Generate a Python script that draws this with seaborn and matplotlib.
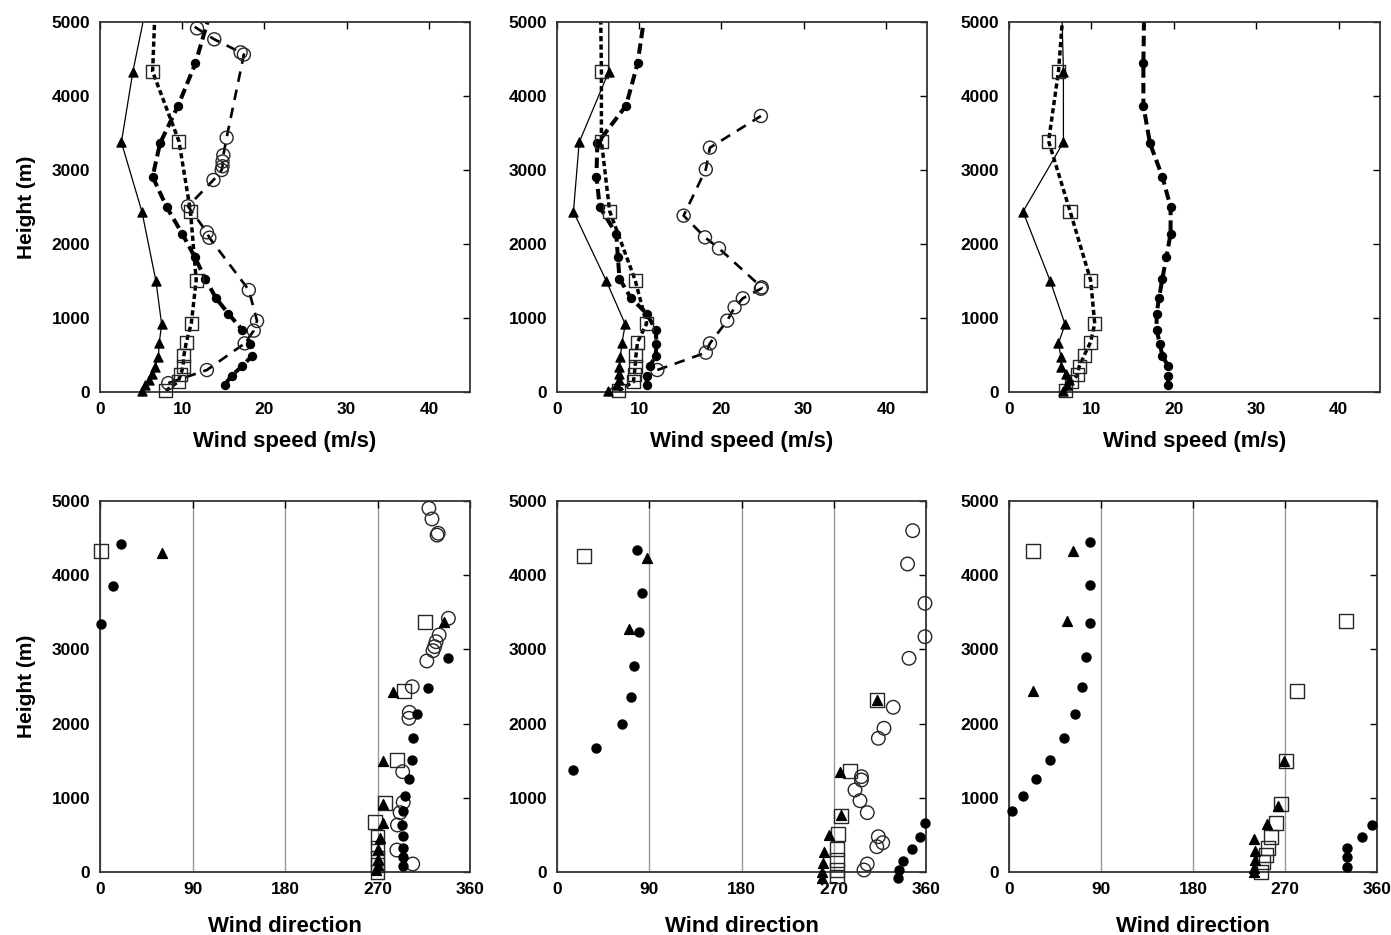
import matplotlib
matplotlib.use("Agg")
import matplotlib.pyplot as plt
import pandas as pd
import seaborn as sns

# ======== TOP ROW: wind speed profiles (m/s) ========
# triangles, thin solid line
tri_h = [15, 100, 160, 250, 340, 470, 660, 915, 1500, 2437, 3375, 4330, 5200]
tri_speed_a = [5.1, 5.5, 5.9, 6.3, 6.7, 7.1, 7.2, 7.5, 6.8, 5.1, 2.6, 4.0, 5.6]
tri_speed_b = [6.2, 7.3, 7.5, 7.5, 7.6, 7.7, 7.9, 8.3, 6.0, 2.0, 2.7, 6.3, 6.3]
tri_speed_c = [6.6, 7.0, 7.3, 6.9, 6.3, 6.3, 6.0, 6.8, 5.0, 1.7, 6.6, 6.6, 6.4]

# open squares, short thick dashes
sq_h = [15, 140, 230, 340, 490, 675, 925, 1513, 2445, 3390, 4330, 5200]
sq_speed_a = [8.0, 9.5, 9.8, 10.1, 10.2, 10.5, 11.1, 11.7, 11.0, 9.6, 6.4, 6.7]
sq_speed_b = [7.5, 9.3, 9.4, 9.5, 9.6, 9.8, 10.9, 9.5, 6.4, 5.4, 5.4, 5.3]
sq_speed_c = [6.8, 7.6, 8.3, 8.5, 9.1, 9.9, 10.4, 9.9, 7.4, 4.8, 6.0, 6.6]

# filled circles, thick dashes
fc_h = [100, 220, 350, 490, 650, 840, 1060, 1270, 1530, 1830, 2140, 2500,
        2910, 3360, 3870, 4440, 5200]
fc_speed_a = [15.2, 16.0, 17.3, 18.5, 18.3, 17.3, 15.6, 14.1, 12.8, 11.5, 10.0,
              8.1, 6.4, 7.3, 9.5, 11.6, 13.6]
fc_speed_b = [10.9, 10.9, 11.3, 12.0, 12.1, 12.0, 10.9, 9.0, 7.6, 7.4, 7.2,
              5.2, 4.8, 4.9, 8.4, 9.8, 10.8]
fc_speed_c = [19.3, 19.3, 19.3, 18.6, 18.3, 17.9, 17.9, 18.2, 18.6, 19.1, 19.6,
              19.6, 18.6, 17.1, 16.3, 16.3, 16.4]

# open circles, long dashes (not in 3rd panel)
oc_h_a = [120, 297, 657, 829, 960, 1378, 2085, 2158, 2510, 2865, 3000, 3050,
          3115, 3200, 3437, 4560, 4590, 4766, 4914, 5100]
oc_speed_a = [8.3, 13.0, 17.6, 18.7, 19.1, 18.1, 13.3, 13.0, 10.7, 13.8, 14.8,
              14.9, 14.9, 15.0, 15.4, 17.5, 17.1, 13.9, 11.8, 9.3]
oc_h_b = [297, 532, 657, 964, 1144, 1266, 1395, 1414, 1941, 2090, 2383, 3009,
          3302, 3730]
oc_speed_b = [12.2, 18.1, 18.6, 20.7, 21.6, 22.6, 24.8, 24.9, 19.7, 18.0, 15.4,
              18.1, 18.6, 24.8]

# ======== BOTTOM ROW: wind direction (deg) ========
# panel a
dtri_h_a = [27, 94, 171, 306, 462, 664, 912, 1500, 2430, 3365, 4304]
dtri_dir_a = [269, 270, 270.5, 270.8, 272.4, 275, 275.7, 275, 285.5, 335, 60]
dsq_h_a = [5, 94, 184, 319, 476, 670, 926, 1509, 2443, 3373, 4326]
dsq_dir_a = [270, 270, 270, 270, 270, 267.6, 277.3, 289.3, 296, 316.2, 0.7]
dfc_h_a = [80, 200, 330, 480, 630, 820, 1030, 1250, 1510, 1800, 2130, 2480,
           2880, 3340, 3850, 4420]
dfc_dir_a = [294.5, 294.5, 295, 295, 294, 295, 297, 300.6, 303.8, 304.5, 308.7,
             319, 338.5, 1, 13, 20]
doc_h_a = [108, 296, 633, 800, 939, 1352, 2071, 2152, 2497, 2844, 2983, 3037,
           3104, 3194, 3419, 4540, 4565, 4758, 4902]
doc_dir_a = [304.3, 288.8, 289.4, 292, 295, 294.5, 300.6, 301, 303.8, 318, 324,
             325.6, 327, 330, 339, 328, 329, 323, 320]

# panel b
dtri_h_b = [-80, 0, 126, 274, 499, 768, 1352, 2318, 3271, 4228]
dtri_dir_b = [259, 259, 259.5, 260, 265, 277, 276, 312, 70.5, 87.5]
dsq_h_b = [-60, 27, 162, 310, 508, 759, 1361, 2318, 4253]
dsq_dir_b = [273, 273, 273.5, 273.5, 274.4, 277, 286, 312.5, 26.6]
dfc_h_b = [-80, 27, 152, 306, 467, 664, 1375, 1667, 1995, 2363, 2776, 3239,
           3756, 4340]
dfc_dir_b = [332.7, 334, 338, 346, 354, 359.5, 15.9, 38, 63, 72, 75.4, 80.3,
             82.6, 77.7]
doc_h_b = [27, 108, 341, 395, 476, 800, 961, 1105, 1240, 1285, 1802, 1937,
           2220, 2880, 3171, 3621, 4151, 4600]
doc_dir_b = [299.5, 302.7, 312, 317.8, 313.5, 302.7, 295.6, 290.7, 297, 297,
             313.5, 319, 328, 343.4, 359, 359, 342, 347]

# panel c
dtri_h_c = [0, 54, 162, 288, 441, 647, 890, 1496, 2436, 3382, 4328]
dtri_dir_c = [240, 240, 240.5, 240.5, 240, 252, 263.5, 269.3, 23.8, 57, 62.3]
dsq_h_c = [0, 135, 225, 320, 468, 666, 915, 1500, 2443, 3382, 4328]
dsq_dir_c = [246.5, 249, 251, 253.7, 256.3, 261, 266, 270.7, 282, 329.4, 23.8]
dfc_h_c = [72, 206, 319, 468, 635, 824, 1027, 1257, 1514, 1807, 2131, 2496,
           2901, 3351, 3865, 4442]
dfc_dir_c = [330.4, 330.4, 331, 345, 354.8, 2.6, 13.4, 26.4, 40.1, 53.8, 64.6,
             71.1, 75.3, 78.8, 79.2, 79.2]

speed_ticks = [0, 10, 20, 30, 40]
dir_ticks = [0, 90, 180, 270, 360]
height_ticks = [0, 1000, 2000, 3000, 4000, 5000]

# styles for each kind of series
line_kw = {
    "tri": dict(linestyle="-", linewidth=0.9),
    "sq": dict(linestyle=(0, (1.5, 0.9)), linewidth=2.5),
    "fc": dict(linestyle=(0, (2.6, 1.3)), linewidth=2.9),
    "oc": dict(linestyle=(0, (4.0, 3.0)), linewidth=1.9),
}
mark_top = {
    "tri": dict(marker="^", s=42, facecolor="black", edgecolor="black"),
    "sq": dict(marker="s", s=88, facecolor="none", edgecolor="0.15"),
    "fc": dict(marker="o", s=33, facecolor="black", edgecolor="black"),
    "oc": dict(marker="o", s=88, facecolor="none", edgecolor="0.15"),
}
mark_bot = {
    "tri": dict(marker="^", s=50, facecolor="black", edgecolor="black"),
    "sq": dict(marker="s", s=100, facecolor="none", edgecolor="0.15"),
    "fc": dict(marker="o", s=42, facecolor="black", edgecolor="black"),
    "oc": dict(marker="o", s=95, facecolor="none", edgecolor="0.15"),
}

sns.set_style("white")
plt.rcParams["font.family"] = ["Liberation Sans", "DejaVu Sans"]
plt.rcParams["font.weight"] = "bold"
plt.rcParams["text.color"] = "black"
plt.rcParams["axes.labelcolor"] = "black"

fig = plt.figure(figsize=(13.91, 9.35), dpi=100)
W, H = 1391.0, 935.0


def make_ax(left, right, top, bottom):
    return fig.add_axes([left / W, 1 - bottom / H, (right - left) / W, (bottom - top) / H])


def style_ax(ax, xticks, xlim, xlabel, ylabel, pad_x):
    ax.set_xlim(*xlim)
    ax.set_ylim(0, 5000)
    ax.set_xticks(xticks)
    ax.set_yticks(height_ticks)
    ax.tick_params(direction="in", top=True, right=True, length=5, width=1,
                   labelsize=12.5, pad=7, colors="black")
    for lab in ax.get_xticklabels() + ax.get_yticklabels():
        lab.set_fontweight("bold")
    for sp in ax.spines.values():
        sp.set_color("0.2")
        sp.set_linewidth(1.3)
    ax.set_xlabel(xlabel, fontsize=16, fontweight="bold", labelpad=pad_x, color="black")
    if ylabel:
        ax.set_ylabel(ylabel, fontsize=15, fontweight="bold", labelpad=11, color="black")
    else:
        ax.set_ylabel("")


def speed_panel(ax, series):
    for kind, h, v in series:
        df = pd.DataFrame({"speed": v, "height": h})
        sns.lineplot(data=df, x="speed", y="height", sort=False, estimator=None,
                     color="black", ax=ax, **line_kw[kind])
        pts = df[df["height"] <= 5000]
        sns.scatterplot(data=pts, x="speed", y="height", linewidth=1.0,
                        clip_on=False, zorder=3, ax=ax, **mark_top[kind])


def dir_panel(ax, series):
    ax.xaxis.grid(True, color="0.6", linewidth=1.0)
    ax.set_axisbelow(True)
    for kind, h, d in series:
        df = pd.DataFrame({"direction": d, "height": h})
        sns.scatterplot(data=df, x="direction", y="height", linewidth=1.0,
                        clip_on=False, zorder=3, ax=ax, **mark_bot[kind])


top_lefts = [(100, 470), (557, 927), (1009, 1380)]
bot_lefts = [(100, 470), (557, 926), (1009, 1377)]

speed_series = [
    [("oc", oc_h_a, oc_speed_a), ("fc", fc_h, fc_speed_a),
     ("sq", sq_h, sq_speed_a), ("tri", tri_h, tri_speed_a)],
    [("oc", oc_h_b, oc_speed_b), ("fc", fc_h, fc_speed_b),
     ("sq", sq_h, sq_speed_b), ("tri", tri_h, tri_speed_b)],
    [("fc", fc_h, fc_speed_c), ("sq", sq_h, sq_speed_c), ("tri", tri_h, tri_speed_c)],
]
dir_series = [
    [("sq", dsq_h_a, dsq_dir_a), ("oc", doc_h_a, doc_dir_a),
     ("fc", dfc_h_a, dfc_dir_a), ("tri", dtri_h_a, dtri_dir_a)],
    [("sq", dsq_h_b, dsq_dir_b), ("oc", doc_h_b, doc_dir_b),
     ("fc", dfc_h_b, dfc_dir_b), ("tri", dtri_h_b, dtri_dir_b)],
    [("sq", dsq_h_c, dsq_dir_c), ("fc", dfc_h_c, dfc_dir_c), ("tri", dtri_h_c, dtri_dir_c)],
]

for i in range(3):
    l, r = top_lefts[i]
    ax = make_ax(l, r, 22, 392)
    speed_panel(ax, speed_series[i])
    style_ax(ax, speed_ticks, (0, 45), "Wind speed (m/s)",
             "Height (m)" if i == 0 else None, 10)

    l, r = bot_lefts[i]
    ax = make_ax(l, r, 501, 872)
    dir_panel(ax, dir_series[i])
    style_ax(ax, dir_ticks, (0, 360), "Wind direction",
             "Height (m)" if i == 0 else None, 14)

plt.savefig("out.png", dpi=100)
